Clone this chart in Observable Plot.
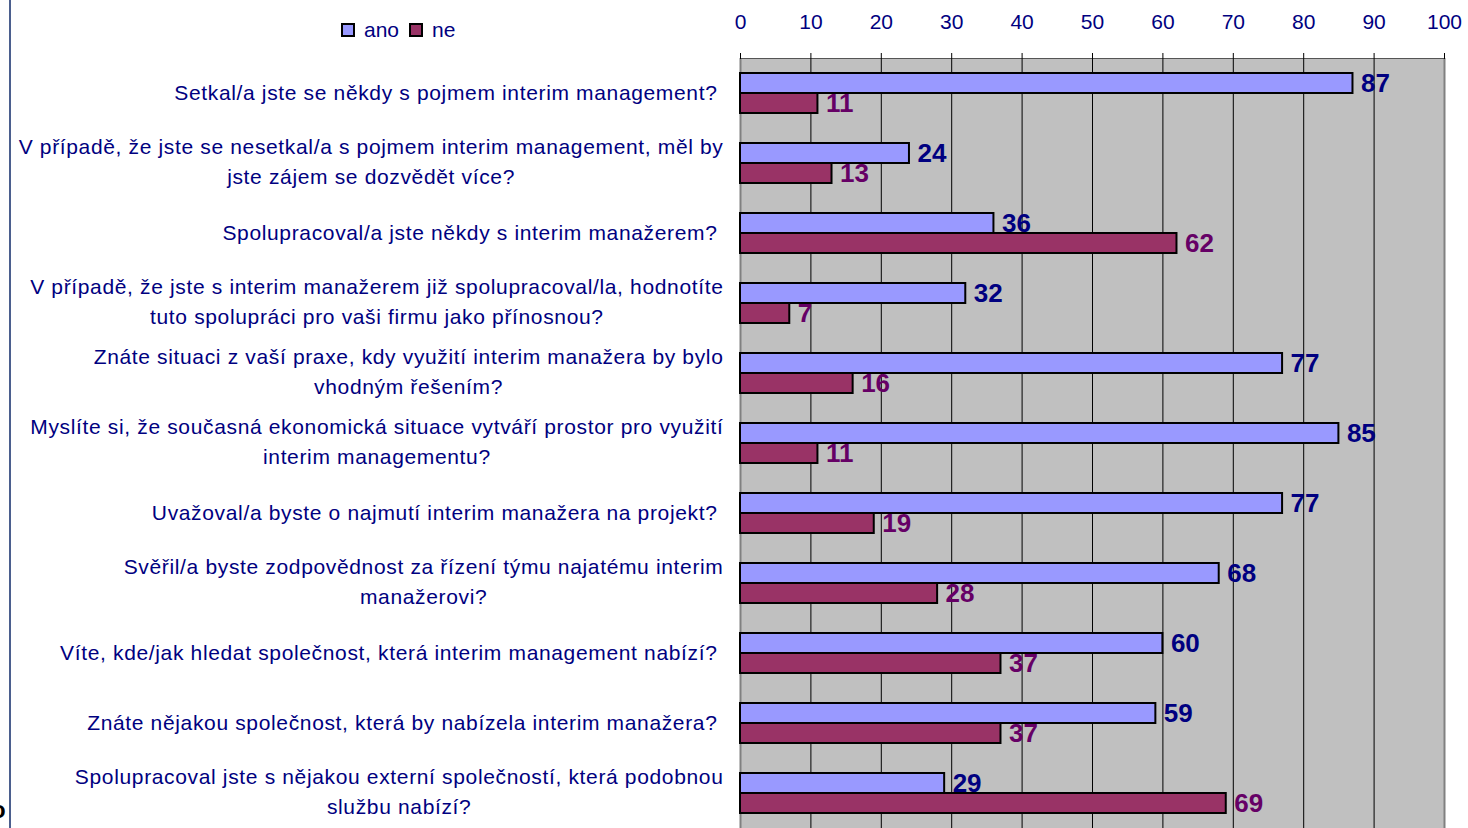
<!DOCTYPE html>
<html>
<head>
<meta charset="utf-8">
<script src="https://cdn.jsdelivr.net/npm/d3@7"></script>
<script src="https://cdn.jsdelivr.net/npm/@observablehq/plot@0.6"></script>
<style>
  html, body { margin: 0; padding: 0; background: #fff; overflow: hidden; }
  #wrap { position: relative; width: 1468px; height: 828px; font-family: "Liberation Sans", Arial, sans-serif; }
  #leftline { position: absolute; left: 9px; top: 0; width: 2px; height: 828px; background: #4b5f8e; }
  #legend { position: absolute; left: 341px; top: 18px; font-size: 21px; color: #000080; display: flex; align-items: center; white-space: nowrap; }
  #legend .sw { display: inline-block; width: 10px; height: 10px; border: 2px solid #000; margin-right: 9px; }
  #legend .item { display: flex; align-items: center; margin-right: 10px; }
  #stray { position: absolute; left: -9px; top: 796px; font-size: 24px; font-weight: bold; color: #000; }
  #chart { position: absolute; left: 0; top: 0; }
  .lab text { letter-spacing: 0.65px; }
</style>
</head>
<body>
<div id="wrap">
  <div id="leftline"></div>
  <div id="legend"></div>
  <div id="stray">o</div>
  <div id="chart"></div>
</div>
<script>
const categories = [
  "Setkal/a jste se někdy s pojmem interim management?",
  "V případě, že jste se nesetkal/a s pojmem interim management, měl by\njste zájem se dozvědět více?",
  "Spolupracoval/a jste někdy s interim manažerem?",
  "V případě, že jste s interim manažerem již spolupracoval/la, hodnotíte\ntuto spolupráci pro vaši firmu jako přínosnou?",
  "Znáte situaci z vaší praxe, kdy využití interim manažera by bylo\nvhodným řešením?",
  "Myslíte si, že současná ekonomická situace vytváří prostor pro využití\ninterim managementu?",
  "Uvažoval/a byste o najmutí interim manažera na projekt?",
  "Svěřil/a byste zodpovědnost za řízení týmu najatému interim\nmanažerovi?",
  "Víte, kde/jak hledat společnost, která interim management nabízí?",
  "Znáte nějakou společnost, která by nabízela interim manažera?",
  "Spolupracoval jste s nějakou externí společností, která podobnou\nslužbu nabízí?"
];
const ano = [87, 24, 36, 32, 77, 85, 77, 68, 60, 59, 29];
const ne  = [11, 13, 62, 7, 16, 11, 19, 28, 37, 37, 69];
const xTicks = [0, 10, 20, 30, 40, 50, 60, 70, 80, 90, 100];
const seriesNames = ["ano", "ne"];
const seriesColors = ["#9999ff", "#993366"];

const rows = categories.map((c, i) => ({cat: c, ano: ano[i], ne: ne[i], multi: c.includes("\n")}));

// legend
const legend = document.getElementById("legend");
seriesNames.forEach((s, i) => {
  const it = document.createElement("span");
  it.className = "item";
  it.innerHTML = `<span class="sw" style="background:${seriesColors[i]}"></span><span>${s}</span>`;
  legend.appendChild(it);
});

const navy = "#000080";
const purple = "#660066";

const chart = Plot.plot({
  width: 1468,
  height: 828,
  marginLeft: 740,
  marginRight: 24,
  marginTop: 58,
  marginBottom: 0,
  style: {fontFamily: "Liberation Sans, Arial, sans-serif", background: "transparent", overflow: "visible"},
  x: {domain: [0, 100], axis: null},
  y: {domain: categories, type: "band", padding: 0, axis: null},
  marks: [
    Plot.frame({fill: "#c0c0c0", stroke: null}),
    Plot.ruleX(xTicks.filter(d => d > 0 && d < 100), {stroke: "#000", strokeWidth: 1}),
    Plot.ruleX([0, 100], {stroke: "#808080", strokeWidth: 2}),
    Plot.frame({anchor: "top", stroke: "#555", strokeWidth: 1}),
    Plot.axisX({
      anchor: "top", ticks: xTicks, tickSize: 6, tickPadding: 24,
      fontSize: 21, color: navy, stroke: "#000", tickFormat: d => String(d)
    }),
    Plot.barX(rows, {x: "ano", y: "cat", fill: seriesColors[0], stroke: "#000", strokeWidth: 2, insetTop: 15, insetBottom: 35}),
    Plot.barX(rows, {x: "ne", y: "cat", fill: seriesColors[1], stroke: "#000", strokeWidth: 2, insetTop: 35, insetBottom: 15}),
    Plot.text(rows, {x: "ano", y: "cat", text: d => String(d.ano), dx: 8, dy: -10, textAnchor: "start", fontSize: 26, fontWeight: "bold", fill: navy}),
    Plot.text(rows, {x: "ne", y: "cat", text: d => String(d.ne), dx: 8, dy: 10, textAnchor: "start", fontSize: 26, fontWeight: "bold", fill: purple}),
    Plot.text(rows.filter(d => !d.multi), {y: "cat", frameAnchor: "left", text: "cat", textAnchor: "end", dx: -23, fontSize: 21, fill: navy, className: "lab"}),
    Plot.text(rows.filter(d => d.multi), {y: "cat", frameAnchor: "left", text: "cat", textAnchor: "end", dx: -17, dy: -4, fontSize: 21, lineHeight: 1.45, fill: navy, className: "lab multilab"})
  ]
});
document.getElementById("chart").appendChild(chart);

// center lines of multi-line labels inside their right-aligned block
chart.querySelectorAll(".multilab text").forEach(el => {
  const w = el.getBBox().width;
  el.setAttribute("text-anchor", "middle");
  el.querySelectorAll("tspan").forEach(t => t.setAttribute("x", -w / 2));
});
</script>
</body>
</html>
